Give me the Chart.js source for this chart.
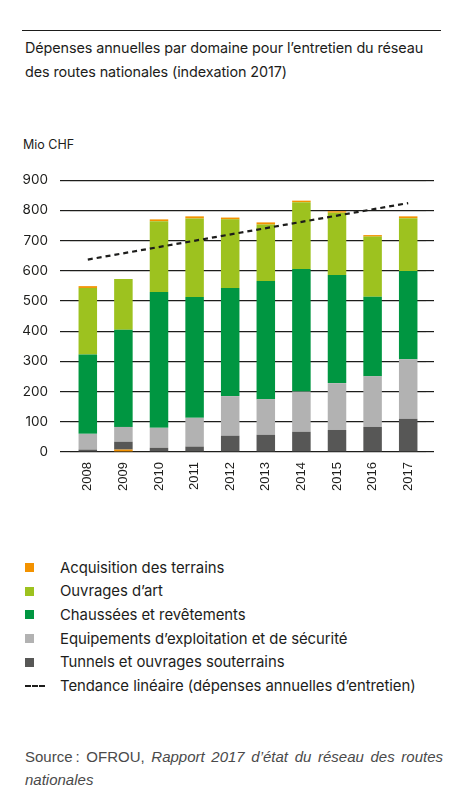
<!DOCTYPE html>
<html><head><meta charset="utf-8">
<script src="https://cdn.jsdelivr.net/npm/chart.js@4.4.1/dist/chart.umd.min.js"></script>
<style>
html,body{margin:0;padding:0;background:#fff;}
body{width:474px;height:807px;position:relative;overflow:hidden;font-family:Inter,Roboto,"Noto Sans",sans-serif;color:#1d1d1b;}
#rule{position:absolute;left:22px;top:30px;width:419px;height:0;border-top:1.5px solid #1d1d1b;}
#title{position:absolute;left:25px;top:36px;width:425px;font-size:14.4px;line-height:24px;letter-spacing:-0.1px;}
#unit{position:absolute;left:23px;top:137px;font-size:12.5px;line-height:16px;}
#wrap{position:absolute;left:0;top:160px;width:474px;height:340px;}
#legend{position:absolute;left:25px;top:556px;font-size:14.9px;letter-spacing:-0.05px;}
.row{height:23.6px;display:flex;align-items:center;white-space:nowrap;}
.sw{width:35px;flex:none;display:flex;align-items:center;}
.sq{width:9px;height:9px;}
.dash{width:20px;height:0;border-top:2px dashed #1d1d1b;}
#source{position:absolute;left:25px;top:745px;width:418px;font-family:"Liberation Sans",Arial,sans-serif;font-size:15px;line-height:23px;color:#4a4a4a;text-align:justify;text-align-last:left;}
</style></head>
<body>
<div id="rule"></div>
<div id="title">Dépenses annuelles par domaine pour l’entretien du réseau des routes nationales (indexation 2017)</div>
<div id="unit">Mio CHF</div>
<div id="wrap"><canvas id="c"></canvas></div>
<div id="legend"></div>
<div id="source">Source&#8239;: OFROU, <i>Rapport 2017 d’état du réseau des routes nationales</i></div>
<script>
const years = ['2008','2009','2010','2011','2012','2013','2014','2015','2016','2017'];
const tunnels = [8,26,14,18,54,57,67,73,83,110];
const equipements = [52,49,66,95,131,118,133,155,168,197];
const chaussees = [263,322,450,400,358,391,406,358,263,292];
const ouvrages = [220,168,234,260,227,187,221,206,199,175];
const acquisition = [6,8,6,7,6,7,5,5,5,6];
const acquisitionAtBase = ['2009'];
const trend = [637,null,null,null,null,null,null,null,null,824];
const yTicks = [0,100,200,300,400,500,600,700,800,900];

const names = {
  acq:'Acquisition des terrains',
  ouv:'Ouvrages d’art',
  cha:'Chaussées et revêtements',
  equ:'Equipements d’exploitation et de sécurité',
  tun:'Tunnels et ouvrages souterrains',
  tre:'Tendance linéaire (dépenses annuelles d’entretien)'
};
const colors = {acq:'#f39200',ouv:'#9dc21f',cha:'#009641',equ:'#b2b2b2',tun:'#575756',tre:'#1d1d1b'};

const acqBase = years.map((y,i)=>acquisitionAtBase.includes(y)?acquisition[i]:null);
const acqTop = years.map((y,i)=>acquisitionAtBase.includes(y)?null:acquisition[i]);

function bar(label,data,color){
  return {type:'bar',label,data,backgroundColor:color,stack:'s',categoryPercentage:1,barPercentage:0.52};
}
const datasets = [
  {type:'line',label:names.tre,data:trend,stack:'trend',borderColor:colors.tre,borderWidth:2.2,borderDash:[5,4],pointRadius:0,spanGaps:true,fill:false},
  bar(names.acq+' ',acqBase,colors.acq),
  bar(names.tun,tunnels,colors.tun),
  bar(names.equ,equipements,colors.equ),
  bar(names.cha,chaussees,colors.cha),
  bar(names.ouv,ouvrages,colors.ouv),
  bar(names.acq,acqTop,colors.acq)
];

new Chart(document.getElementById('c'),{
  data:{labels:years,datasets},
  options:{
    responsive:true,maintainAspectRatio:false,animation:false,
    layout:{padding:{top:18,right:40,left:0,bottom:0}},
    plugins:{legend:{display:false},tooltip:{enabled:false}},
    scales:{
      x:{stacked:true,grid:{display:false,drawTicks:false},border:{display:false},
         ticks:{color:'#1d1d1b',font:{family:'"Liberation Sans", Arial, sans-serif',size:13},minRotation:90,maxRotation:90,padding:10,autoSkip:false},
         afterFit:s=>{s.height=48;}},
      y:{stacked:true,min:0,max:900,position:'left',
         afterBuildTicks:s=>{s.ticks=yTicks.map(v=>({value:v}));},
         grid:{color:'#1d1d1b',lineWidth:1.2,drawTicks:true,tickLength:10,tickColor:'#1d1d1b'},
         border:{display:false},
         ticks:{color:'#1d1d1b',font:{family:'Inter, Roboto, sans-serif',size:13.5},padding:12},
         afterFit:s=>{s.width=70;}},
      y2:{min:0,max:900,position:'right',
         afterBuildTicks:s=>{s.ticks=yTicks.map(v=>({value:v}));},
         grid:{drawOnChartArea:false,drawTicks:true,tickLength:8,tickColor:'#1d1d1b',lineWidth:1.2},
         border:{display:false},
         ticks:{display:false},
         afterFit:s=>{s.width=8;}}
    }
  }
});

// HTML legend built from the same names and colours
const order = ['acq','ouv','cha','equ','tun','tre'];
const leg = document.getElementById('legend');
order.forEach(k=>{
  const row=document.createElement('div');row.className='row';
  const sw=document.createElement('div');sw.className='sw';
  const m=document.createElement('div');
  if(k==='tre'){m.className='dash';}else{m.className='sq';m.style.background=colors[k];}
  sw.appendChild(m);
  const t=document.createElement('span');t.textContent=names[k];
  row.appendChild(sw);row.appendChild(t);leg.appendChild(row);
});
</script>
</body></html>
